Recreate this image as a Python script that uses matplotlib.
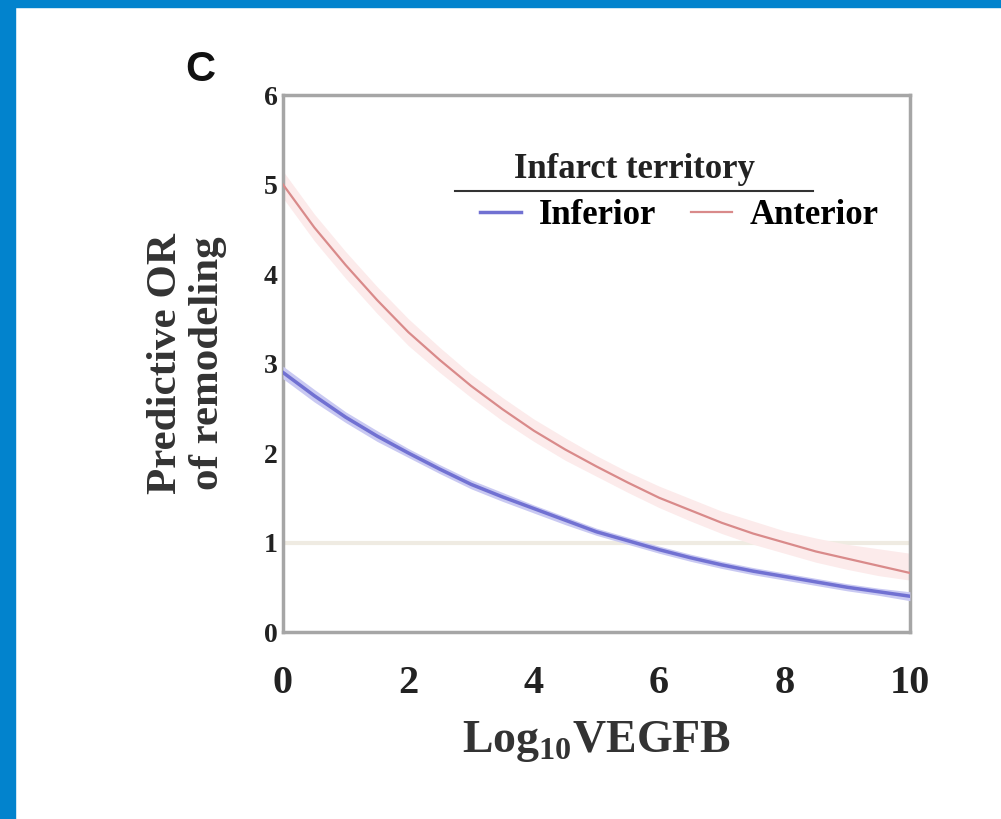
import matplotlib
matplotlib.use('Agg')
import matplotlib.pyplot as plt
from matplotlib.patches import Rectangle

# values (Log10 VEGFB vs predictive OR)
vegfb = [0, 0.5, 1, 1.5, 2, 2.5, 3, 3.5, 4, 4.5, 5, 5.5, 6, 6.5, 7, 7.5, 8, 8.5, 9, 9.5, 10]
inferior = [2.9, 2.64, 2.4, 2.19, 2.0, 1.82, 1.65, 1.51, 1.38, 1.25, 1.12,
            1.02, 0.92, 0.83, 0.75, 0.68, 0.62, 0.56, 0.5, 0.45, 0.4]
inferior_lo = [2.83, 2.57, 2.34, 2.13, 1.95, 1.77, 1.6, 1.46, 1.33, 1.2, 1.08,
               0.98, 0.88, 0.79, 0.71, 0.64, 0.58, 0.52, 0.46, 0.41, 0.35]
inferior_hi = [2.97, 2.71, 2.46, 2.25, 2.05, 1.87, 1.7, 1.56, 1.42, 1.29, 1.16,
               1.06, 0.96, 0.87, 0.79, 0.72, 0.66, 0.6, 0.54, 0.49, 0.45]
anterior = [5.0, 4.52, 4.1, 3.71, 3.35, 3.04, 2.75, 2.49, 2.25, 2.04, 1.85,
            1.67, 1.5, 1.36, 1.22, 1.1, 1.0, 0.9, 0.82, 0.74, 0.66]
anterior_lo = [4.85, 4.37, 3.95, 3.56, 3.2, 2.9, 2.62, 2.36, 2.13, 1.92, 1.74,
               1.56, 1.39, 1.24, 1.1, 0.98, 0.88, 0.78, 0.7, 0.63, 0.58]
anterior_hi = [5.15, 4.67, 4.25, 3.86, 3.5, 3.18, 2.88, 2.62, 2.38, 2.17, 1.97,
               1.79, 1.63, 1.49, 1.35, 1.24, 1.13, 1.05, 0.98, 0.93, 0.88]
xticks = [0, 2, 4, 6, 8, 10]
yticks = [0, 1, 2, 3, 4, 5, 6]

serif = 'Liberation Serif'
plt.rcParams['mathtext.fontset'] = 'custom'
plt.rcParams['mathtext.rm'] = 'Liberation Serif:bold'
plt.rcParams['mathtext.bf'] = 'Liberation Serif:bold'

fig = plt.figure(figsize=(10.01, 8.19), dpi=100)
fig.patch.set_facecolor('white')
blue = '#0283cd'
fig.patches.append(Rectangle((0, 0), 15/1001, 1, transform=fig.transFigure, color=blue, zorder=0))
fig.patches.append(Rectangle((0, 1 - 7/819), 1, 7/819, transform=fig.transFigure, color=blue, zorder=0))

ax = fig.add_axes([0.2827, 0.2283, 0.6263, 0.6557])
ax.axhline(1, color='#efebe2', lw=3, zorder=1)
ax.fill_between(vegfb, anterior_lo, anterior_hi, color='#fcebeb', lw=0, zorder=2)
ax.plot(vegfb, anterior, color='#d98a8a', lw=1.6, zorder=3, label='Anterior')
ax.fill_between(vegfb, inferior_lo, inferior_hi, color='#c9c9f2', lw=0, zorder=4)
ax.plot(vegfb, inferior, color='#7171d2', lw=2.5, zorder=5, label='Inferior')

ax.set_xlim(0, 10)
ax.set_ylim(0, 6)
ax.set_xticks(xticks)
ax.set_yticks(yticks)
for s in ax.spines.values():
    s.set_color('#a6a6a6')
    s.set_linewidth(2.5)
ax.tick_params(axis='both', length=0)
ax.tick_params(axis='x', pad=24)
ax.tick_params(axis='y', pad=4)
for lab in ax.get_xticklabels():
    lab.set_fontfamily(serif)
    lab.set_fontweight('bold')
    lab.set_fontsize(29)
    lab.set_color('#222222')
for lab in ax.get_yticklabels():
    lab.set_fontfamily(serif)
    lab.set_fontweight('bold')
    lab.set_fontsize(20)
    lab.set_color('#222222')

ax.set_xlabel(r'Log$_{10}$VEGFB', fontfamily=serif, fontweight='bold', fontsize=33, color='#333333', labelpad=12)
ax.set_ylabel('Predictive OR\nof remodeling', fontfamily=serif, fontweight='bold', fontsize=31,
              color='#333333', labelpad=26, linespacing=1.15)

handles, labels = ax.get_legend_handles_labels()
leg = ax.legend(handles[::-1], labels[::-1], ncol=2, frameon=False, loc='upper right',
                bbox_to_anchor=(1.0, 0.865), handlelength=1.2, columnspacing=1.0, handletextpad=0.5,
                prop={'family': serif, 'weight': 'bold', 'size': 25})
ax.text(0.56, 0.83, 'Infarct territory', transform=ax.transAxes, ha='center', va='bottom',
        fontfamily=serif, fontweight='bold', fontsize=25, color='#222222')
ax.plot([0.275, 0.845], [0.822, 0.822], transform=ax.transAxes, color='#333333', lw=1.5, clip_on=False)

fig.text(0.2, 0.915, 'C', fontfamily='Liberation Sans', fontweight='bold', fontsize=30, color='#111111',
         ha='center', va='center')

fig.savefig('out.png', dpi=100)
